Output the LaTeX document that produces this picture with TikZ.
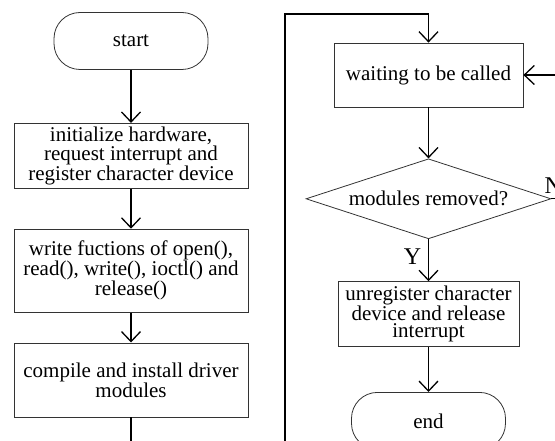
\documentclass[tikz,border=0pt]{standalone}
\usepackage{fontspec}
\setmainfont{Liberation Serif}
\usetikzlibrary{shapes.geometric,positioning,arrows.meta}

\begin{document}
\begin{tikzpicture}[x=1pt, y=1pt,
    every node/.style={font=\fontsize{21}{17}\selectfont, align=center, inner sep=0pt},
    proc/.style={draw=black!80, line width=0.8pt, rectangle},
    term/.style={draw=black!80, line width=0.8pt, rectangle, rounded corners=26pt,
        minimum width=154pt, minimum height=57pt},
    decide/.style={draw=black!80, line width=0.8pt, diamond, aspect=3,
        minimum width=245pt, minimum height=80pt},
    arr/.style={line width=1.3pt, -{Straight Barb[length=10pt,width=19pt,line width=1.3pt]}},
    yn/.style={font=\fontsize{24}{24}\selectfont}]

    \useasboundingbox (0,0) rectangle (555,-441);
    \clip (0,0) rectangle (555,-441);

    % left column
    \node[term] (start) at (131,-41) {start};
    \node[proc, minimum width=234pt, minimum height=65pt, below=53pt of start] (init)
        {initialize hardware,\\request interrupt and\\register character device};
    \node[proc, minimum width=234pt, minimum height=83pt, below=40pt of init] (fops)
        {write fuctions of open(),\\read(), write(), ioctl() and\\release()};
    \node[proc, minimum width=234pt, minimum height=74pt, below=30pt of fops] (inst)
        {compile and install driver\\modules};

    % right column
    \node[proc, minimum width=189pt, minimum height=64pt] (wait) at (428.5,-75)
        {waiting to be called};
    \node[decide, below=51pt of wait] (removed) {modules removed?};
    \node[proc, minimum width=181pt, minimum height=65pt, below=42pt of removed] (unreg)
        {unregister character\\device and release\\interrupt};
    \node[term, below=45pt of unreg] (end) {end};

    \draw[arr] (start) -- (init);
    \draw[arr] (init) -- (fops);
    \draw[arr] (fops) -- (inst);
    \draw[arr] (inst.south) |- (285,-470) -- (285,-14) -| (wait.north);

    \draw[arr] (wait) -- (removed);
    \draw[arr] (removed) -- (unreg);
    \node[yn, anchor=north east, xshift=-7pt, yshift=-9pt] (ylabel) at (removed.south) {Y};
    \draw[arr] (removed.east) -- ++(30,0) |- (wait.east);
    \node[yn, anchor=south west, xshift=-7pt, yshift=5pt] (nlabel) at (removed.east) {N};
    \draw[arr] (unreg) -- (end);
\end{tikzpicture}
\end{document}
